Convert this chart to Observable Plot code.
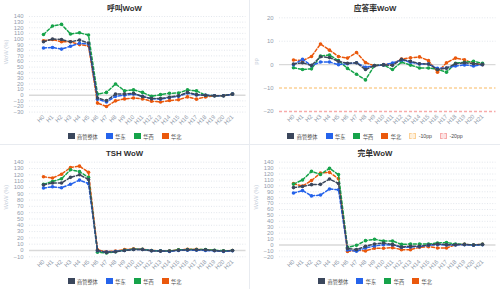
<!DOCTYPE html>
<html><head><meta charset="utf-8">
<script src="https://cdn.jsdelivr.net/npm/d3@7"></script>
<script src="https://cdn.jsdelivr.net/npm/@observablehq/plot@0.6"></script>
<style>
html,body{margin:0;padding:0;background:#ffffff;}
body{font-family:"Liberation Sans","Noto Sans CJK SC",sans-serif;}
#grid{position:relative;width:500px;height:289px;background:#e8ebf0;}
.panel{position:absolute;background:#fff;overflow:hidden;}
.title{position:absolute;left:0;right:0;top:3px;height:11px;line-height:11px;text-align:center;font-size:7.8px;font-weight:bold;color:#2f2f2f;}
.plot{position:absolute;left:0;top:12px;}
.legend{position:absolute;left:0;right:0;top:132px;height:8px;display:flex;justify-content:center;align-items:center;font-size:5.2px;color:#4a4a4a;}
.item{display:flex;align-items:center;margin:0 4px;}
.box{display:inline-block;width:7px;height:6.5px;margin-right:2.5px;box-sizing:border-box;}
</style>
</head><body>
<div id="grid"></div>
<script>
const hours = ["H0","H1","H2","H3","H4","H5","H6","H7","H8","H9","H10","H11","H12","H13","H14","H15","H16","H17","H18","H19","H20","H21"];
const seriesNames = ["商管整体","华东","华西","华北"];
const seriesColors = ["#3b475c","#2563eb","#16a34a","#ea580c"];
const refNames = ["-10pp","-20pp"];
const refValues = [-10,-20];
const refColors = ["#fcd196","#f7aaaa"];

// 呼叫WoW
const callAll   = [95,100,99,95,98,93,-5,-9.5,2,2.4,3.6,-2.4,-6,-6,-3.5,-1,5,1,0,-1,-1,2];
const callEast  = [84,85,82,87,92.5,91,-7,-12,-2,0,2,-2,-6,-7,-4,-2,4,0.5,0,-1,-1,2];
const callWest  = [108,123,126,109,111,107,2,5,20,8,9.5,5,-2,1,3.5,4,9.5,7.7,0,-1,-1,2];
const callNorth = [97,99,95,95,90,88,-14,-20,-10,-6.5,-5,-6.5,-10.7,-12,-9.5,-8,-3,-7,-3,-1,-1,2];
const callTicks = [-30,-20,-10,0,10,20,30,40,50,60,70,80,90,100,110,120,130,140];

// 应答率WoW
const ansAll   = [0.3,0.8,-0.3,3.4,3,1.4,0.6,0.8,-2.1,-0.4,-0.1,-0.3,2.3,1.4,0.4,0.3,-2.1,-1.5,0.4,0.8,0.4,0.1];
const ansEast  = [0,2.3,-0.4,1.1,1.1,0,0.4,0.8,-1.1,-0.5,-0.1,0.7,2,1,0.3,0.3,-1.6,-1.4,-0.6,-0.1,-0.6,0];
const ansWest  = [-1.3,-2.1,-1.8,3.7,4.1,1.7,-1.6,-4.1,-6.5,-0.4,-0.1,-2.1,1.1,-0.2,-1.4,-1.4,-2,-3.2,0.6,1,1.4,0.6];
const ansNorth = [2,1.7,3.5,8.8,6.2,3.5,2.8,5.2,0.9,-0.5,0,0.3,2.4,2.9,3.3,1.7,-3.2,0.8,2.8,2.1,0.5,0];
const ansTicks = [-20,-10,0,10,20];

// TSH WoW
const tshAll   = [104,107,107,116,120,112.6,0,-3,-2,0,1.5,1.5,-0.5,-1,-1,0.5,1,1,1,0,-1,0];
const tshEast  = [99,101,99.5,105,111.6,106,-0.5,-2.6,-1.5,0,1.5,1.5,-0.5,-1,-1.5,0,0.5,0.5,0,-0.5,-1.5,-0.5];
const tshWest  = [105,109.5,113.7,128,125,116,-2.6,-4,-2,0.5,2,2,0,-0.5,-1,1,1.5,1.5,1.5,0.5,-0.5,0];
const tshNorth = [117,115,121,131.6,133.7,124,1,-2,-1,1.5,2.6,2,0,-0.5,-1,1,2,2,1,0,-1,0];
const tshTicks = [-10,0,10,20,30,40,50,60,70,80,90,100,110,120,130,140];

// 完单WoW
const doneAll   = [97,99,102,102.5,111.5,104,-6,-7.9,-2.3,1.7,3.4,1,-3.4,-2.3,-2.3,0,1.7,0.5,0.5,1,0,1];
const doneEast  = [88,92,83,84.5,94.6,93.5,-8.5,-10.7,-5,-1.7,0.5,0,-4,-3.4,-2.8,-0.5,0.5,0,0,0.5,-0.5,0.5];
const doneWest  = [103,110,124.5,119.4,129.6,119,-4,-0.5,7.3,9.6,6.8,6.8,1,1.7,1.7,1.7,3.4,4,1.7,1,0,1];
const doneNorth = [103.7,99.7,109,121.7,122.8,112,-11,-9,-10,-5.6,-5.6,-4.5,-7.9,-7.9,-4,-2.8,-5,-5,0.5,1,0,1];
const doneTicks = [-20,-10,0,10,20,30,40,50,60,70,80,90,100,110,120,130,140];

const panels = [
  {title:"呼叫WoW", ylabel:"WoW (%)", series:[callAll,callEast,callWest,callNorth], ticks:callTicks, domain:[-30,140], left:0, top:0, width:249, height:144, mt:4, mb:18.4, refs:false},
  {title:"应答率WoW", ylabel:"pp", series:[ansAll,ansEast,ansWest,ansNorth], ticks:ansTicks, domain:[-20,20], left:250, top:0, width:250, height:144, mt:5.3, mb:19, refs:true},
  {title:"TSH WoW", ylabel:"WoW (%)", series:[tshAll,tshEast,tshWest,tshNorth], ticks:tshTicks, domain:[-10,140], left:0, top:145, width:249, height:144, mt:4.7, mb:18.7, refs:false},
  {title:"完单WoW", ylabel:"WoW (%)", series:[doneAll,doneEast,doneWest,doneNorth], ticks:doneTicks, domain:[-20,140], left:250, top:145, width:250, height:144, mt:4.7, mb:18.7, refs:false}
];

const grid = document.getElementById("grid");
for (const p of panels) {
  const div = document.createElement("div");
  div.className = "panel";
  div.style.left = p.left + "px"; div.style.top = p.top + "px";
  div.style.width = p.width + "px"; div.style.height = p.height + "px";
  const t = document.createElement("div"); t.className = "title"; t.textContent = p.title; div.appendChild(t);

  const marks = [
    Plot.ruleY(p.ticks.filter(v => v !== 0 && !(p.refs && refValues.includes(v))), {stroke:"#dfe3ea", strokeWidth:0.9, strokeDasharray:"1,1.6"}),
    Plot.ruleY([0], {stroke:"#d9d9d9", strokeWidth:1.3})
  ];
  if (p.refs) {
    refValues.forEach((v, k) => marks.push(Plot.ruleY([v], {stroke: refColors[k], strokeWidth:1.5, strokeDasharray:"3,2"})));
  }
  marks.push(Plot.axisY({ticks: p.ticks, tickSize:0, tickPadding:6, fontSize:5.9, color:"#939dac", label:null}));
  marks.push(Plot.text(hours, {x: d => d, frameAnchor:"bottom", dy:4, rotate:-45, textAnchor:"end", lineAnchor:"middle", fontSize:5.9, fill:"#939dac"}));
  marks.push(Plot.text([p.ylabel], {frameAnchor:"left", dx:-23, rotate:-90, fontSize:5.8, fill:"#c2cbd8"}));
  for (let k = p.series.length - 1; k >= 0; k--) {
    const vals = p.series[k];
    marks.push(Plot.line(vals, {x:(d,i) => hours[i], y:d => d, stroke: seriesColors[k], strokeWidth:1.5, strokeDasharray:"3,2"}));
    marks.push(Plot.dot(vals, {x:(d,i) => hours[i], y:d => d, r:1.8, fill: seriesColors[k]}));
  }
  const svg = Plot.plot({
    width: p.width, height: 118,
    marginLeft: 29, marginRight: p.width - 245.5, marginTop: p.mt, marginBottom: p.mb,
    x: {type:"point", domain: hours, axis: null},
    y: {domain: p.domain, axis: null},
    style: {background:"transparent", overflow:"visible", fontFamily:"'Liberation Sans','Noto Sans CJK SC',sans-serif"},
    marks
  });
  svg.classList.add("plot");
  div.appendChild(svg);

  const lg = document.createElement("div"); lg.className = "legend";
  seriesNames.forEach((n, k) => {
    const it = document.createElement("span"); it.className = "item";
    const b = document.createElement("span"); b.className = "box"; b.style.background = seriesColors[k];
    it.appendChild(b); it.appendChild(document.createTextNode(n)); lg.appendChild(it);
  });
  if (p.refs) {
    refNames.forEach((n, k) => {
      const it = document.createElement("span"); it.className = "item";
      const b = document.createElement("span"); b.className = "box";
      b.style.border = "1.2px dashed " + refColors[k]; b.style.background = refColors[k] + "55";
      it.appendChild(b); it.appendChild(document.createTextNode(n)); lg.appendChild(it);
    });
  }
  div.appendChild(lg);
  grid.appendChild(div);
}
</script>
</body></html>
